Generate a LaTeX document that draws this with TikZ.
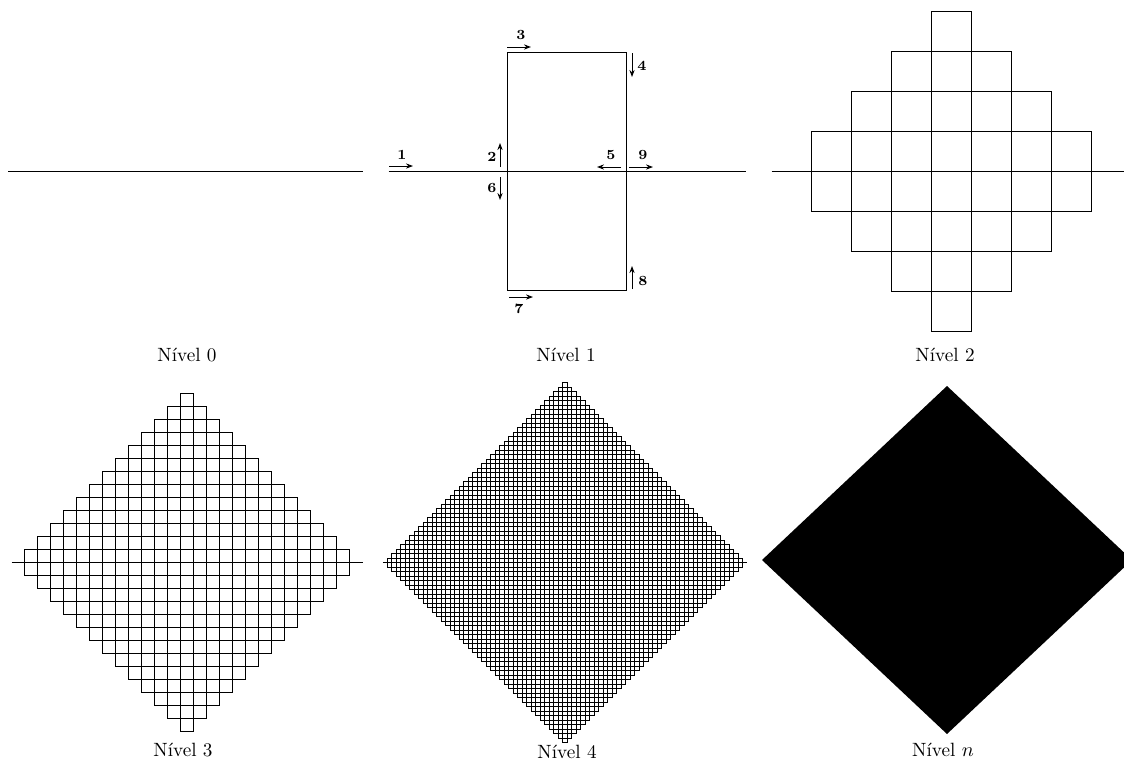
\documentclass[tikz,border=0pt]{standalone}
\usepackage{tikz}
\usetikzlibrary{arrows.meta,lindenmayersystems}

\pgfdeclarelindenmayersystem{peano}{
  \rule{F -> F+F-F-F-F+F+F+F-F}
}

\begin{document}
\begin{tikzpicture}[
  x=0.5pt, y=-0.5pt,
  curve/.style={line width=0.6pt, line join=miter},
  nivel/.style={font=\fontsize{9.6}{12}\selectfont},
  seta/.style={-{Stealth[length=3.5pt,width=2.6pt]}, line width=0.5pt},
  num/.style={font=\scriptsize\bfseries, inner sep=1pt}
]
  \path[use as bounding box, clip] (0,0) rectangle (1124,760);

  % level 0
  \draw[curve] (8,171.5) -- (363,171.5);
  \node[nivel] (n0) at (187,355) {Nível 0};

  % level 1
  \begin{scope}[shift={(388.5,171.5)}]
    \draw[curve, l-system={peano, axiom=F, order=1, step=59.5pt, angle=90}]
      (0,0) lindenmayer system;
  \end{scope}
  \draw[seta] (389,166) -- (413,166);
  \node[num] (k1) at (402,155) {1};
  \draw[seta] (500,167) -- (500,143);
  \node[num] (k2) at (492,157) {2};
  \draw[seta] (507,47) -- (531,47);
  \node[num] (k3) at (521,35) {3};
  \draw[seta] (632,53) -- (632,77);
  \node[num] (k4) at (642,66) {4};
  \draw[seta] (621,167) -- (597,167);
  \node[num] (k5) at (611,155) {5};
  \draw[seta] (500,177) -- (500,200);
  \node[num] (k6) at (492,188) {6};
  \draw[seta] (509,297) -- (533,297);
  \node[num] (k7) at (519,309) {7};
  \draw[seta] (632,289) -- (632,266);
  \node[num] (k8) at (643,281) {8};
  \draw[seta] (629,167) -- (653,167);
  \node[num] (k9) at (643,155) {9};
  \node[nivel] (n1) at (566,355) {Nível 1};

  % level 2
  \begin{scope}[shift={(771.5,171.5)}]
    \draw[curve, l-system={peano, axiom=F, order=2, step=20pt, angle=90}]
      (0,0) lindenmayer system;
  \end{scope}
  \node[nivel] (n2) at (945,355) {Nível 2};

  % level 3
  \begin{scope}[shift={(11.5,562.5)}]
    \draw[curve, line width=0.85pt,
      l-system={peano, axiom=F, order=3, step=6.5pt, angle=90}]
      (0,0) lindenmayer system;
  \end{scope}
  \node[nivel] (n3) at (183,750) {Nível 3};

  % level 4
  \begin{scope}[shift={(382.75,562.75)}]
    \draw[curve, line width=0.55pt,
      l-system={peano, axiom=F, order=4, step=2.25pt, angle=90}]
      (0,0) lindenmayer system;
  \end{scope}
  \node[nivel] (n4) at (567,752) {Nível 4};

  % level n
  \fill (762,560) -- (947,386) -- (1132,560) -- (947,734) -- cycle;
  \node[nivel] (nn) at (943,750) {Nível $n$};
\end{tikzpicture}
\end{document}
